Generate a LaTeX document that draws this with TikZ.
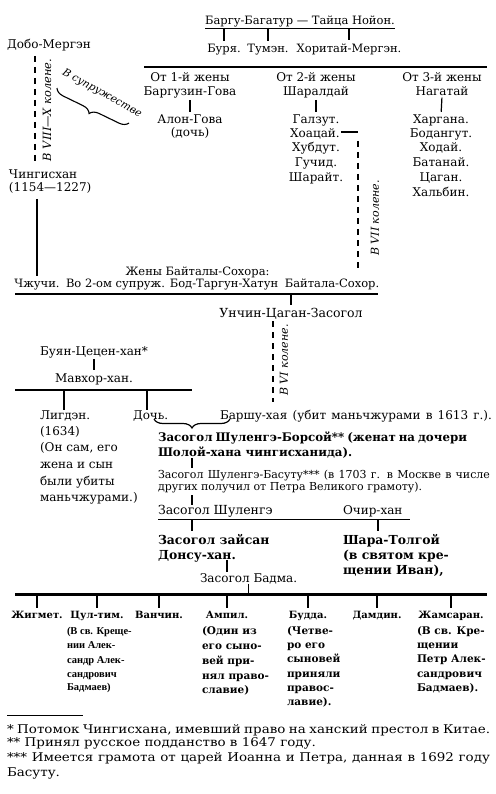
\documentclass[tikz,border=0pt]{standalone}
\usepackage{fontspec}
\setmainfont{DejaVu Serif}
\newfontfamily\condf{Liberation Serif}
\newfontfamily\fnfont[FakeStretch=1.12]{DejaVu Serif}
\usetikzlibrary{decorations.pathreplacing,calc}
\begin{document}
\begin{tikzpicture}[x=1pt,y=-1pt,
  every node/.style={inner sep=0pt,outer sep=0pt},
  tx/.style={font=\fontsize{12}{14}\selectfont,anchor=base},
  txm/.style={font=\fontsize{11.5}{14}\selectfont,anchor=base},
  txl/.style={tx,anchor=base west},
  txb/.style={font=\fontsize{11.8}{14}\selectfont\bfseries,anchor=base west},
  txB/.style={font=\fontsize{12.4}{14}\selectfont\bfseries,anchor=base west},
  txs/.style={font=\fontsize{11}{13}\selectfont,anchor=base west},
  nb/.style={font=\fontsize{10}{14}\selectfont\bfseries,anchor=base},
  nt/.style={font=\fontsize{10.5}{14}\selectfont\bfseries,anchor=base west},
  nc/.style={font=\fontsize{10.5}{14}\condf\bfseries,anchor=base west},
  fn/.style={font=\fontsize{12}{14}\fnfont,anchor=base west},
  rot/.style={font=\fontsize{11}{12}\selectfont\itshape,rotate=90},
  ln/.style={line width=1.2pt},
  bar/.style={line width=1.6pt},
  thk/.style={line width=2.4pt},
  dsh/.style={line width=1.6pt,dash pattern=on 6pt off 5pt},
  vc/.style={ln,shorten <=1.5pt,shorten >=3.5pt}
]
\useasboundingbox (0,0) rectangle (495,794);

% ---------- top
\node[txm] (top) at (300,25) {Баргу-Багатур — Тайца Нойон.};
\coordinate (u0) at ($(top.base)+(0,3)$);
\draw[line width=0.9pt] (top.west |- u0) -- (top.east |- u0);
\node[txm] (bur) at (224,53) {Буря.};
\node[txm] (tum) at (268,53) {Тумэн.};
\node[txm] (hor) at (349,53) {Хоритай-Мергэн.};
\foreach \n in {bur,tum,hor} \draw[ln,shorten >=4pt] (u0 -| \n) -- (\n.north);
\coordinate (b1l) at (144,67); \coordinate (b1r) at (487,67);
\draw[bar] (b1l) -- (b1r);

% wives
\node[tx] (w1a) at (190,82) {От 1-й жены};
\node[tx] (w1b) at (190,96) {Баргузин-Гова};
\node[tx] (alon) at (190,124) {Алон-Гова};
\node[tx] (doch1) at (190,137) {(дочь)};
\draw[vc] (w1b.south) -- (alon.north);

\node[tx] (w2a) at (316,82) {От 2-й жены};
\node[tx] (w2b) at (316,96) {Шаралдай};
\node[tx] (galz) at (316,124) {Галзут.};
\node[tx] (hoa) at (315,137.5) {Хоацай.};
\node[tx] (hub) at (316,152) {Хубдут.};
\node[tx] (guch) at (316,167) {Гучид.};
\node[tx] (shar) at (316,182) {Шарайт.};
\draw[vc] (w2b.south) -- (galz.north);

\node[tx] (w3a) at (442,82) {От 3-й жены};
\node[tx] (w3b) at (442,96) {Нагатай};
\node[tx] (harg) at (441,124) {Харгана.};
\node[tx] at (441,137.5) {Бодангут.};
\node[tx] at (441,152) {Ходай.};
\node[tx] at (441,167) {Батанай.};
\node[tx] at (441,182) {Цаган.};
\node[tx] at (441,197) {Хальбин.};
\draw[vc] (w3b.south) -- (harg.north);

% VII koleno
\coordinate (k7) at (358,132);
\coordinate (k7b) at (358,268);
\draw[ln] ([xshift=1pt]hoa.east |- k7) -- (k7);
\draw[dsh] ([yshift=-9pt]k7) -- (k7b);
\node[rot] at (375,218) {В VII колене.};

% left
\node[tx] (dobo) at (49,49) {Добо-Мергэн};
\coordinate (d1) at (35,56); \coordinate (d2) at (35,165);
\draw[dsh] (d1) -- (d2);
\node[rot,font=\fontsize{11.4}{12}\selectfont\itshape] at (47,110) {В VIII—X колене.};
\draw[line width=1.1pt,decorate,decoration={brace,amplitude=9pt}] (129,123) -- (57,88);
\node[font=\fontsize{10.5}{12}\selectfont\itshape,rotate=-29] at (102,93.5) {В супружестве};

\node[txl] (ching) at (9,179) {Чингисхан};
\node[txl] (chy) at (9,192) {(1154—1227)};

% Baitala line
\node[txm] (zheny) at (197.5,275) {Жены Байталы-Сохора:};
\node[txm] (chzh) at (37,287) {Чжучи.};
\node[txm,anchor=base west] (bod) at (66,287) {Во 2-ом супруж. Бод-Таргун-Хатун};
\node[txm] (bais) at (332,287) {Байтала-Сохор.};
\draw[ln,line width=1.6pt,shorten <=5pt,shorten >=3pt] (chy.south -| chzh) -- (chzh.north);
\coordinate (b2l) at (15,294); \coordinate (b2r) at (378,294);
\draw[thk] (b2l) -- (b2r);

\node[font=\fontsize{12.5}{14}\selectfont,anchor=base] (unch) at (291,317) {Унчин-Цаган-Засогол};
\draw[ln,line width=1.6pt,shorten >=3pt] (b2l -| unch) -- (unch.north);
\coordinate (k6a) at (273,321); \coordinate (k6b) at (273,402);
\draw[dsh] (k6a) -- (k6b);
\node[rot] at (284,360) {В VI колене.};

\node[tx] (buyan) at (94,355) {Буян-Цецен-хан*};
\node[tx] (mavh) at (94,382.5) {Мавхор-хан.};
\draw[vc,line width=1.6pt] (buyan.south) -- (mavh.north);
\coordinate (b3l) at (15,390); \coordinate (b3r) at (192,390);
\draw[bar] (b3l) -- (b3r);

\node[txl] (ligd) at (40,419) {Лигдэн.};
\node[txl] at (40,435.5) {(1634)};
\node[txl] at (40,451) {(Он сам, его};
\node[txl] at (40,468) {жена и сын};
\node[txl] at (40,485) {были убиты};
\node[txl] at (40,501) {маньчжурами.)};
\node[txl] (doch2) at (133,419) {Дочь.};
\coordinate (lg) at (64,390); \coordinate (dc) at (147,390);
\draw[ln,line width=1.6pt] (lg) -- (lg |- ligd.north);
\draw[ln,line width=1.6pt] (dc) -- (dc |- doch2.north);
\node[txl] (barsh) at (220,419) {\makebox[272pt][s]{Баршу-хая (убит маньчжурами в 1613 г.).}};
\draw[line width=1.2pt,decorate,decoration={brace,amplitude=9pt}] (230,419) -- (154,419);

\node[txb] (bors) at (158,441) {\makebox[309pt][s]{Засогол Шуленгэ-Борсой** (женат на дочери}};
\node[txb] (bors2) at (158,456) {Шолой-хана чингисханида).};
\node[txs] (basu) at (158,478) {\makebox[332pt][s]{Засогол Шуленгэ-Басуту*** (в 1703 г. в Москве в числе}};
\node[txs] (basu2) at (158,490.5) {других получил от Петра Великого грамоту).};
\coordinate (c1) at (192,458); \coordinate (c2) at (192,468);
\draw[ln,line width=1.6pt] (c1) -- (c2);
\coordinate (c3) at (192,495); \coordinate (c4) at (192,505);
\draw[ln,line width=1.6pt] (c3) -- (c4);

\node[font=\fontsize{12.5}{14}\selectfont,anchor=base west] (shul) at (158,514) {Засогол Шуленгэ};
\node[txl] (ochir) at (343,514) {Очир-хан};
\coordinate (b4l) at (158,519.5); \coordinate (b4r) at (410,519.5);
\draw[bar] (b4l) -- (b4r);

\node[txB] (zais) at (158,544) {Засогол зайсан};
\node[txB] (dons) at (158,559) {Донсу-хан.};
\node[txB] (shara) at (343,544) {Шара-Толгой};
\node[txB] at (343,559) {(в святом кре-};
\node[txB] at (343,574) {щении Иван),};
\draw[ln,line width=1.6pt] (b4l -| 192,0) -- (192,531);
\draw[ln,line width=1.6pt] (b4l -| 378,0) -- (378,531);

\node[txl] (badma) at (200,582) {Засогол Бадма.};
\draw[ln,line width=1.6pt] (227,560) -- (227,572);
\coordinate (b5l) at (15,594.5); \coordinate (b5r) at (487,594.5);
\draw[ln,line width=1.6pt] (badma.south) -- (badma.south |- b5l);
\draw[thk] (b5l) -- (b5r);

% bottom row
\node[nb] (n1) at (37,618) {Жигмет.};
\node[nb] (n2) at (97,618) {Цул-тим.};
\node[nb] (n3) at (159,618) {Ванчин.};
\node[nb] (n4) at (227,618) {Ампил.};
\node[nb] (n5) at (308,618) {Будда.};
\node[nb] (n6) at (377,618) {Дамдин.};
\node[nb] (n7) at (451,618) {Жамсаран.};
\foreach \n in {n1,n2,n3,n4,n5,n6,n7}
  \draw[ln,line width=1.6pt,shorten >=3pt] (b5l -| \n) -- (\n.north);

\node[nc] at (67,634) {(В св. Креще-};
\node[nc] at (67,648) {нии Алек-};
\node[nc] at (67,663) {сандр Алек-};
\node[nc] at (67,677) {сандрович};
\node[nc] at (67,690.5) {Бадмаев)};

\node[nt] at (202,634) {(Один из};
\node[nt] at (202,649) {его сыно-};
\node[nt] at (202,664) {вей при-};
\node[nt] at (202,679) {нял право-};
\node[nt] at (202,693) {славие)};

\node[nt] at (287,634) {(Четве-};
\node[nt] at (287,648) {ро его};
\node[nt] at (287,662.5) {сыновей};
\node[nt] at (287,677) {приняли};
\node[nt] at (287,691.5) {правос-};
\node[nt] at (287,705.5) {лавие).};

\node[nt] at (417,634) {(В св. Кре-};
\node[nt] at (417,648) {щении};
\node[nt] at (417,662.5) {Петр Алек-};
\node[nt] at (417,677) {сандрович};
\node[nt] at (417,691) {Бадмаев).};

% footnotes
\draw[line width=0.6pt] (7,715) -- (83,715);
\node[fn] at (7,733) {\makebox[483pt][s]{* Потомок Чингисхана, имевший право на ханский престол в Китае.}};
\node[fn] at (7,746.5) {** Принял русское подданство в 1647 году.};
\node[fn] at (7,761) {\makebox[483pt][s]{*** Имеется грамота от царей Иоанна и Петра, данная в 1692 году}};
\node[fn] at (7,776) {Басуту.};
\end{tikzpicture}
\end{document}
